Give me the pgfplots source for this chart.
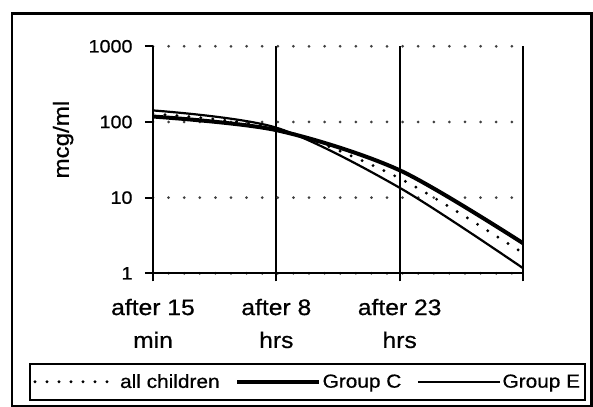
\documentclass[border=0pt]{standalone}
\usepackage{fontspec}
\setmainfont{Liberation Sans}[FakeStretch=1.1, FakeBold=0.6]
\usepackage{pgfplots}
\pgfplotsset{compat=1.18}
\begin{document}
\begin{tikzpicture}
\useasboundingbox (-153bp,-133.7bp) rectangle (440bp,273.3bp);
\draw[line width=2.6bp] (-141bp,-132.5bp) rectangle (438.5bp,260bp);
\begin{axis}[
  at={(0,0)}, anchor=south west,
  scale only axis, width=370bp, height=227bp,
  ymode=log, xmin=0, xmax=3, ymin=1, ymax=1000,
  axis x line=bottom, axis y line=left,
  axis line style={line width=2.2bp, -},
  xtick={0,1,2,3}, xticklabels={after 15\\min, after 8\\hrs, after 23\\hrs, {}},
  ytick={1,10,100,1000}, yticklabels={1,10,100,1000},
  minor ytick={}, yminorticks=false,
  tick align=outside, major tick length=8bp,
  tick style={line width=2.2bp, black},
  xticklabel style={align=center, font=\fontsize{22.5}{33}\selectfont, yshift=-14bp},
  yticklabel style={font=\fontsize{18}{20}\selectfont, xshift=-9bp},
  ylabel={mcg/ml},
  ylabel style={font=\fontsize{22}{24}\selectfont, at={(axis description cs:-0.243,0.589)}, anchor=center, rotate=0},
  xmajorgrids, ymajorgrids,
  x grid style={line width=2.2bp, black},
  y grid style={line width=3bp, black!75, line cap=round, dash pattern=on 0bp off 15.6bp},
  legend columns=3,
  legend image code/.code={\draw[#1] (0bp,0bp) -- (82bp,0bp);},
  legend style={at={(axis description cs:0.4176,-0.478)}, anchor=center, draw=black, line width=2bp,
    font=\fontsize{19}{21}\selectfont, inner xsep=3bp, inner ysep=9bp,
    /tikz/every even column/.append style={column sep=14bp},
    nodes={inner sep=1.5bp}},
]
\addplot[smooth, black, line width=3.2bp, line cap=round, dash pattern=on 0bp off 12bp] coordinates {(0,128) (1,82) (2,18) (3,1.85)};
\addlegendentry{all children}
\addplot[smooth, black, line width=4bp] coordinates {(0,118) (1,78) (2,23) (3,2.5)};
\addlegendentry{Group C}
\addplot[smooth, black, line width=2.2bp] coordinates {(0,142) (1,84) (2,13.5) (3,1.17)};
\addlegendentry{Group E}
\end{axis}
\end{tikzpicture}
\end{document}
